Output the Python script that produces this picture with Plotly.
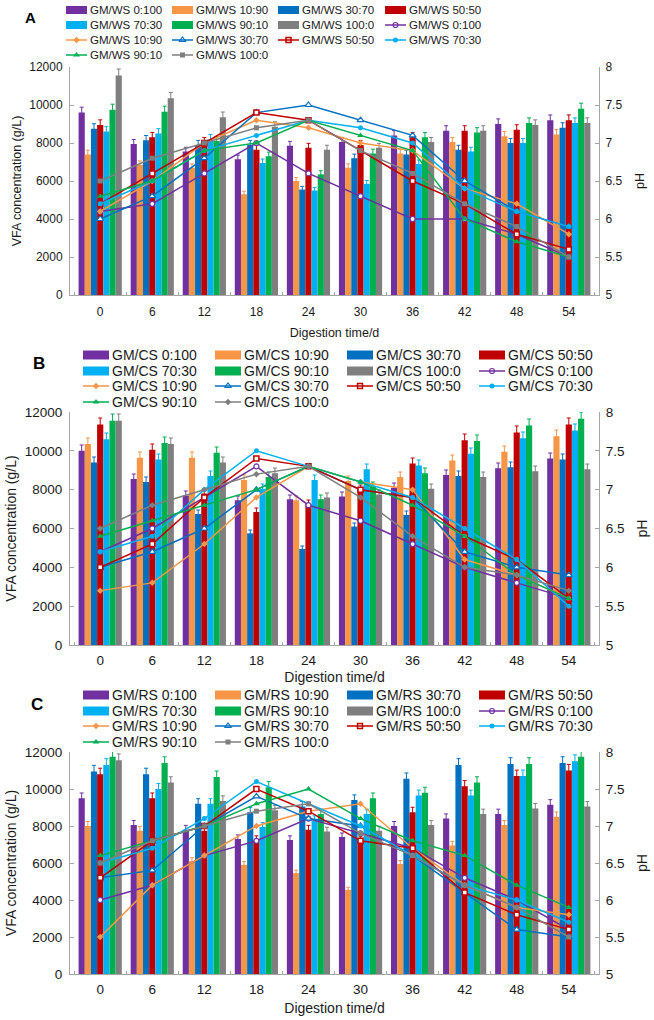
import plotly.graph_objects as go

days = ["0", "6", "12", "18", "24", "30", "36", "42", "48", "54"]
ratios = ["0:100", "10:90", "30:70", "50:50", "70:30", "90:10", "100:0"]
panel_codes = ["WS", "CS", "RS"]
panel_labels = ["A", "B", "C"]

# ---- Panel A (GM/WS) ----
A_vfa_0_100 = [9600, 7950, 7550, 7150, 7850, 8050, 8400, 8650, 9000, 9200]
A_vfa_10_90 = [7400, 6850, 6700, 5300, 6000, 6700, 7450, 8050, 8350, 8450]
A_vfa_30_70 = [8750, 8150, 7900, 7900, 5550, 7200, 7400, 7650, 8000, 8800]
A_vfa_50_50 = [8950, 8300, 8050, 7650, 7750, 7900, 8300, 8650, 8700, 9200]
A_vfa_70_30 = [8600, 8500, 8200, 6950, 5500, 5850, 6900, 7550, 8000, 9050]
A_vfa_90_10 = [9750, 9650, 8100, 7300, 6350, 7450, 8300, 8550, 9050, 9800]
A_vfa_100_0 = [11550, 10350, 9350, 8850, 7650, 7750, 8050, 8650, 8950, 9050]
A_ph_0_100 = [6.1, 6.2, 6.6, 7.0, 6.6, 6.3, 6.0, 6.0, 5.8, 5.5]
A_ph_10_90 = [6.1, 6.5, 7.0, 7.3, 7.2, 7.0, 6.9, 6.4, 6.2, 5.8]
A_ph_30_70 = [6.0, 6.3, 6.8, 7.4, 7.5, 7.3, 7.1, 6.5, 6.1, 5.9]
A_ph_50_50 = [6.2, 6.6, 7.0, 7.4, 7.3, 6.9, 6.5, 6.2, 5.8, 5.6]
A_ph_70_30 = [6.2, 6.5, 6.9, 7.1, 7.3, 7.2, 7.0, 6.4, 6.1, 5.9]
A_ph_90_10 = [6.3, 6.5, 6.9, 7.0, 7.3, 7.1, 6.9, 6.0, 5.7, 5.5]
A_ph_100_0 = [6.5, 6.8, 7.0, 7.2, 7.3, 6.9, 6.6, 6.2, 5.9, 5.5]

# ---- Panel B (GM/CS) ----
B_vfa_0_100 = [10000, 8550, 7700, 7450, 7500, 7650, 8100, 8750, 9100, 9600]
B_vfa_10_90 = [10350, 9650, 9650, 8500, 7450, 8450, 8650, 9500, 9950, 10750]
B_vfa_30_70 = [9400, 8400, 6750, 5750, 4950, 6100, 6700, 8700, 9150, 9550]
B_vfa_50_50 = [11350, 10050, 7800, 6850, 7250, 8000, 9350, 10550, 10950, 11350]
B_vfa_70_30 = [10600, 9550, 8700, 8050, 8500, 9050, 9250, 9850, 10650, 11050]
B_vfa_90_10 = [11550, 10400, 9900, 8650, 7500, 8150, 8850, 10500, 11300, 11650]
B_vfa_100_0 = [11550, 10350, 9400, 8850, 7600, 7750, 8050, 8650, 8950, 9050]
B_ph_0_100 = [6.2, 6.5, 6.9, 7.3, 6.8, 6.6, 6.3, 6.0, 5.8, 5.6]
B_ph_10_90 = [5.7, 5.8, 6.3, 6.9, 7.3, 7.1, 7.0, 6.1, 5.9, 5.6]
B_ph_30_70 = [6.0, 6.2, 6.5, 7.0, 7.3, 7.0, 6.9, 6.2, 6.0, 5.9]
B_ph_50_50 = [6.0, 6.3, 6.9, 7.4, 7.3, 7.0, 6.9, 6.4, 6.1, 5.6]
B_ph_70_30 = [6.2, 6.4, 7.0, 7.5, 7.3, 7.1, 6.9, 6.5, 6.1, 5.5]
B_ph_90_10 = [6.4, 6.6, 6.8, 7.0, 7.3, 7.1, 6.8, 6.4, 5.9, 5.6]
B_ph_100_0 = [6.5, 6.8, 7.0, 7.2, 7.3, 6.9, 6.4, 6.0, 5.9, 5.7]

# ---- Panel C (GM/RS) ----
C_vfa_0_100 = [9500, 8050, 7800, 7300, 7250, 7400, 8000, 8400, 8650, 9150]
C_vfa_10_90 = [8000, 7750, 6100, 5900, 5450, 4550, 5950, 6950, 8050, 8500]
C_vfa_30_70 = [10950, 10800, 9200, 8750, 9050, 9400, 10550, 11300, 11350, 11400]
C_vfa_50_50 = [10800, 9500, 7750, 7250, 7800, 7200, 8750, 10150, 10700, 11000]
C_vfa_70_30 = [11300, 10000, 9200, 7950, 8300, 8650, 9650, 9650, 10700, 11500]
C_vfa_90_10 = [11750, 11400, 10650, 10100, 8650, 9500, 9800, 10350, 11350, 11750]
C_vfa_100_0 = [11550, 10350, 9350, 8850, 7700, 7750, 8050, 8650, 8950, 9050]
C_ph_0_100 = [6.0, 6.2, 6.6, 6.8, 7.1, 6.9, 6.7, 6.3, 6.0, 5.6]
C_ph_10_90 = [5.5, 6.2, 6.6, 7.0, 7.2, 7.3, 6.7, 6.2, 5.9, 5.8]
C_ph_30_70 = [6.3, 6.4, 7.0, 7.4, 7.1, 7.0, 6.6, 6.1, 5.6, 5.5]
C_ph_50_50 = [6.3, 6.8, 7.0, 7.5, 7.2, 6.8, 6.7, 6.1, 5.8, 5.6]
C_ph_70_30 = [6.5, 6.7, 7.1, 7.6, 7.3, 7.0, 6.6, 6.2, 6.0, 5.7]
C_ph_90_10 = [6.6, 6.8, 7.0, 7.3, 7.5, 7.1, 6.8, 6.6, 6.2, 5.9]
C_ph_100_0 = [6.5, 6.8, 7.0, 7.2, 7.3, 6.9, 6.6, 6.2, 5.9, 5.5]

vfa_sets = [
    [A_vfa_0_100, A_vfa_10_90, A_vfa_30_70, A_vfa_50_50, A_vfa_70_30, A_vfa_90_10, A_vfa_100_0],
    [B_vfa_0_100, B_vfa_10_90, B_vfa_30_70, B_vfa_50_50, B_vfa_70_30, B_vfa_90_10, B_vfa_100_0],
    [C_vfa_0_100, C_vfa_10_90, C_vfa_30_70, C_vfa_50_50, C_vfa_70_30, C_vfa_90_10, C_vfa_100_0],
]
ph_sets = [
    [A_ph_0_100, A_ph_10_90, A_ph_30_70, A_ph_50_50, A_ph_70_30, A_ph_90_10, A_ph_100_0],
    [B_ph_0_100, B_ph_10_90, B_ph_30_70, B_ph_50_50, B_ph_70_30, B_ph_90_10, B_ph_100_0],
    [C_ph_0_100, C_ph_10_90, C_ph_30_70, C_ph_50_50, C_ph_70_30, C_ph_90_10, C_ph_100_0],
]

colors = ["#7030A0", "#F79646", "#0070C0", "#C00000", "#00B0F0", "#00B050", "#7F7F7F"]


def marker_style(i, p, size=5):
    c = colors[i]
    if i == 0:
        return dict(symbol="circle", color="white", size=size, line=dict(color=c, width=1.2))
    if i == 1:
        return dict(symbol="diamond", color=c, size=size, line=dict(width=0))
    if i == 2:
        return dict(symbol="triangle-up", color="white", size=size + 1, line=dict(color=c, width=1.2))
    if i == 3:
        return dict(symbol="square", color="white", size=size, line=dict(color=c, width=1.5))
    if i == 4:
        return dict(symbol="circle", color=c, size=size, line=dict(width=0))
    if i == 5:
        return dict(symbol="triangle-up", color=c, size=size + 1, line=dict(width=0))
    sym = "diamond" if p == 1 else "square"
    return dict(symbol=sym, color=c, size=size, line=dict(width=0))


W, H = 654, 1020
X0, X1 = 70, 599          # plot area left/right in pixels
ML, MR = X0, W - X1
PW = X1 - X0

panel_px = [(67, 295), (412, 645), (752, 974)]
tick_font = [12, 13.5, 13.5]
title_font = [12.5, 14, 14]
xtick_standoff = [6, 3, 3]
xtitle_standoff = [9, 4, 6]
legend_cfg = [
    dict(cols=[66, 172, 278, 385], rows=[10, 25, 40, 55], sw=21, sh=8, font=11.5),
    dict(cols=[83, 215, 347, 479], rows=[355, 371, 386, 402], sw=26, sh=9, font=14),
    dict(cols=[83, 215, 347, 479], rows=[695, 711, 726, 742], sw=26, sh=9, font=14),
]
label_pos = [(30, 17, 15), (39, 363, 17), (37, 704, 17)]


def px_x(px):
    return (px - X0) / PW


def px_y(py):
    return 1 - py / H


FONT = "Arial, Liberation Sans, sans-serif"
AXCOL = "#A6A6A6"
TXT = "#1a1a1a"

fig = go.Figure()
layout = dict(
    width=W, height=H,
    margin=dict(l=ML, r=MR, t=0, b=0, autoexpand=False),
    paper_bgcolor="white", plot_bgcolor="rgba(0,0,0,0)",
    font=dict(family=FONT, size=13, color=TXT),
    barmode="group", bargap=0.17, bargroupgap=0,
    showlegend=False,
)
annotations = []
shapes = []
leg_mx, leg_my, leg_mk = [], [], []

for p in range(3):
    xa = "x" if p == 0 else f"x{p+1}"
    ya_b = "y" if p == 0 else f"y{2*p+1}"
    ya_l = f"y{2*p+2}"
    code = panel_codes[p]
    for i, r in enumerate(ratios):
        fig.add_trace(go.Bar(
            x=days, y=vfa_sets[p][i], name=f"GM/{code} {r}",
            marker=dict(color=colors[i], line=dict(width=0)),
            error_y=dict(type="percent", value=3, thickness=1, width=2, color=colors[i]),
            xaxis=xa, yaxis=ya_b,
        ))
    for i, r in enumerate(ratios):
        fig.add_trace(go.Scatter(
            x=days, y=ph_sets[p][i], name=f"GM/{code} {r}",
            mode="lines+markers", line=dict(color=colors[i], width=1.5),
            marker=marker_style(i, p), xaxis=xa, yaxis=ya_l,
        ))

    top, bot = panel_px[p]
    dom = [px_y(bot), px_y(top)]
    xkey = "xaxis" if p == 0 else f"xaxis{p+1}"
    ybkey = "yaxis" if p == 0 else f"yaxis{2*p+1}"
    ylkey = f"yaxis{2*p+2}"
    tf = dict(size=tick_font[p], color=TXT)
    ttf = dict(size=title_font[p], color=TXT)
    layout[xkey] = dict(
        domain=[0, 1], anchor=ya_b, automargin=False,
        type="category", showline=True, linecolor=AXCOL, linewidth=1,
        ticks="inside", ticklen=3, tickcolor=AXCOL, tickson="boundaries",
        ticklabelstandoff=xtick_standoff[p],
        showgrid=False, zeroline=False, tickfont=tf,
        title=dict(text="Digestion time/d", font=ttf, standoff=xtitle_standoff[p]),
    )
    layout[ybkey] = dict(
        domain=dom, anchor=xa, range=[0, 12000], dtick=2000, tickformat="d",
        automargin=False, ticklabelstandoff=4,
        showline=True, linecolor=AXCOL, linewidth=1,
        ticks="inside", ticklen=4, tickcolor=AXCOL,
        showgrid=False, zeroline=False, tickfont=tf,
        title=dict(text="VFA concentration (g/L)", font=ttf, standoff=4),
    )
    layout[ylkey] = dict(
        overlaying=ya_b, side="right", anchor=xa, range=[5, 8], dtick=0.5,
        automargin=False, ticklabelstandoff=3,
        showline=True, linecolor=AXCOL, linewidth=1,
        ticks="inside", ticklen=4, tickcolor=AXCOL,
        showgrid=False, zeroline=False, tickfont=tf,
        title=dict(text="pH", font=ttf, standoff=13),
    )

    # ---- manual legend (4 columns, row-major) ----
    cfg = legend_cfg[p]
    entries = [("bar", i) for i in range(7)] + [("line", i) for i in range(7)]
    for k, (kind, i) in enumerate(entries):
        sx = cfg["cols"][k % 4]
        cy = cfg["rows"][k // 4]
        sw = cfg["sw"]
        if kind == "bar":
            shapes.append(dict(
                type="rect", xref="paper", yref="paper",
                x0=px_x(sx), x1=px_x(sx + sw),
                y0=px_y(cy + cfg["sh"] / 2), y1=px_y(cy - cfg["sh"] / 2),
                fillcolor=colors[i], line=dict(width=0),
            ))
        else:
            shapes.append(dict(
                type="line", xref="paper", yref="paper",
                x0=px_x(sx), x1=px_x(sx + sw), y0=px_y(cy), y1=px_y(cy),
                line=dict(color=colors[i], width=1.5),
            ))
            leg_mx.append(sx + sw / 2)
            leg_my.append(cy)
            leg_mk.append(marker_style(i, p))
        annotations.append(dict(
            text=f"GM/{code} {ratios[i]}", xref="paper", yref="paper",
            x=px_x(sx + sw + 1), y=px_y(cy), xanchor="left", yanchor="middle",
            showarrow=False, font=dict(size=cfg["font"], color=TXT),
        ))

    lx, ly, lf = label_pos[p]
    annotations.append(dict(
        text=f"<b>{panel_labels[p]}</b>", xref="paper", yref="paper",
        x=px_x(lx), y=px_y(ly), showarrow=False,
        font=dict(size=lf, color="#000"), xanchor="center", yanchor="middle",
    ))

# legend markers on a hidden full-page pixel axis
for mx, my, mk in zip(leg_mx, leg_my, leg_mk):
    fig.add_trace(go.Scatter(
        x=[mx], y=[my], mode="markers", marker=mk, cliponaxis=False,
        xaxis="x4", yaxis="y7", hoverinfo="skip", showlegend=False,
    ))
layout["xaxis4"] = dict(domain=[0, 1], range=[X0, X1], visible=False, anchor="y7",
                        fixedrange=True, automargin=False)
layout["yaxis7"] = dict(domain=[0, 1], range=[H, 0], visible=False, anchor="x4",
                        fixedrange=True, automargin=False)

layout["annotations"] = annotations
layout["shapes"] = shapes
fig.update_layout(**layout)
fig.write_html("out.html", config={"displayModeBar": False},
               post_script="document.body.style.margin='0px';")
